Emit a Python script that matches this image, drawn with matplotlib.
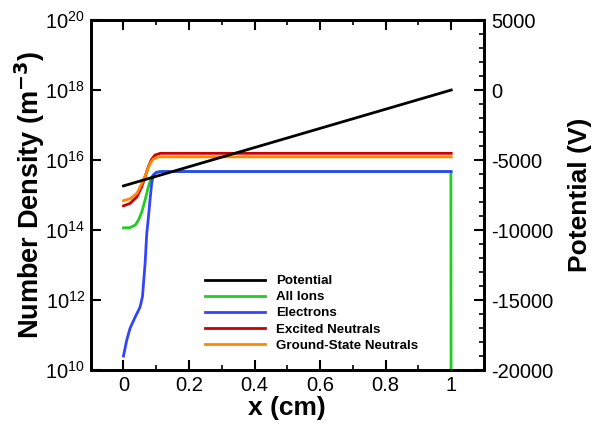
import matplotlib
matplotlib.use("Agg")
import matplotlib.pyplot as plt
from matplotlib.ticker import MultipleLocator, NullLocator, FixedLocator

plt.rcParams['font.family'] = ['Liberation Sans', 'DejaVu Sans']
plt.rcParams['mathtext.default'] = 'regular'
plt.rcParams['axes.unicode_minus'] = False

# ---- data ----
pot_x = [0.0, 1.0]
pot_v = [-6850, 0]

ion_x = [0.0, 0.02, 0.036, 0.046, 0.056, 0.066, 0.076, 0.086, 0.096, 0.112, 0.999, 1.0]
ion_n = [1.15e14, 1.17e14, 1.38e14, 1.95e14, 3.3e14, 7.2e14, 1.74e15, 3.3e15, 4.17e15, 4.68e15, 4.68e15, 1e5]

ele_x = [0.0, 0.010, 0.020, 0.036, 0.046, 0.051, 0.058, 0.066, 0.071, 0.076, 0.081, 0.086, 0.091, 0.101, 0.117, 1.0]
ele_n = [2.5e10, 7.2e10, 1.55e11, 3.3e11, 5.1e11, 6.5e11, 1.26e12, 1.12e13, 7.9e13, 2.24e14, 7.2e14, 2.14e15, 3.7e15, 4.47e15, 4.68e15, 4.68e15]

exc_x = [0.0, 0.02, 0.041, 0.056, 0.066, 0.076, 0.086, 0.096, 0.112, 1.0]
exc_n = [4.9e14, 5.75e14, 8.9e14, 1.74e15, 3.3e15, 6.5e15, 1.05e16, 1.38e16, 1.55e16, 1.55e16]

gnd_x = [0.0, 0.02, 0.041, 0.056, 0.071, 0.081, 0.091, 0.107, 1.0]
gnd_n = [6.9e14, 7.8e14, 1.12e15, 2.14e15, 4.68e15, 7.8e15, 1.07e16, 1.23e16, 1.23e16]

labels = ["Potential", "All Ions", "Electrons", "Excited Neutrals", "Ground-State Neutrals"]
colors = ["#000000", "#22cc22", "#3344ff", "#cc0000", "#ff8800"]

x_ticks = [0, 0.2, 0.4, 0.6, 0.8, 1.0]
x_ticklabels = ["0", "0.2", "0.4", "0.6", "0.8", "1"]
y_ticks = [1e10, 1e12, 1e14, 1e16, 1e18, 1e20]
y_ticklabels = ["$10^{10}$", "$10^{12}$", "$10^{14}$", "$10^{16}$", "$10^{18}$", "$10^{20}$"]
v_ticks = [-20000, -15000, -10000, -5000, 0, 5000]

# ---- figure ----
fig = plt.figure(figsize=(5.93, 4.32), dpi=100)
ax = fig.add_axes([90.7/593, 62/432, (484-90.7)/593, 350/432])
ax2 = ax.twinx()

lw = 2.0
h_ion, = ax.plot(ion_x, ion_n, color=colors[1], lw=lw, solid_joinstyle='round')
h_ele, = ax.plot(ele_x, ele_n, color=colors[2], lw=lw, solid_joinstyle='round')
h_exc, = ax.plot(exc_x, exc_n, color=colors[3], lw=lw, solid_joinstyle='round')
h_gnd, = ax.plot(gnd_x, gnd_n, color=colors[4], lw=lw, solid_joinstyle='round')
h_pot, = ax2.plot(pot_x, pot_v, color=colors[0], lw=lw)

ax.set_yscale('log')
ax.set_xlim(-0.1, 1.1)
ax.set_ylim(1e10, 1e20)
ax.set_yticks(y_ticks)
ax.set_yticklabels(y_ticklabels)
ax.yaxis.set_minor_locator(NullLocator())
ax.set_xticks(x_ticks)
ax.set_xticklabels(x_ticklabels)
ax.xaxis.set_minor_locator(FixedLocator([0.1, 0.3, 0.5, 0.7, 0.9]))

ax2.set_ylim(-20000, 5000)
ax2.set_yticks(v_ticks)
ax2.set_yticklabels([str(v) for v in v_ticks])
ax2.yaxis.set_minor_locator(MultipleLocator(1000))
ax2.xaxis.set_visible(False)

for a in (ax, ax2):
    for s in a.spines.values():
        s.set_linewidth(2.0)

ax.tick_params(axis='x', which='both', direction='in', top=True, bottom=True, labelsize=14.5, pad=4)
ax.tick_params(axis='x', which='major', length=7, width=1.5)
ax.tick_params(axis='x', which='minor', length=3.5, width=1.2)
ax.tick_params(axis='y', which='major', direction='in', left=True, right=False, length=7, width=1.5, labelsize=14.5, pad=4)
ax2.tick_params(axis='y', which='major', direction='in', length=7, width=1.5, labelsize=14.5, pad=5)
ax2.tick_params(axis='y', which='minor', direction='in', length=3.5, width=1.2)

ax.set_xlabel("x (cm)", fontsize=19, fontweight='bold', labelpad=1)
ax.set_ylabel("Number Density (m$^{\\mathbf{-3}}$)", fontsize=19.5, fontweight='bold', labelpad=-1)
ax2.set_ylabel("Potential (V)", fontsize=19, fontweight='bold', labelpad=11)

leg = ax2.legend([h_pot, h_ion, h_ele, h_exc, h_gnd], labels,
                 loc='upper left', bbox_to_anchor=((205-90.7)/(484-90.7), (370-275)/350),
                 frameon=False, prop={'weight': 'bold', 'size': 9.6},
                 handlelength=4.5, handletextpad=0.8, labelspacing=0.28,
                 borderpad=0, borderaxespad=0)

fig.savefig("out.png", dpi=100)
